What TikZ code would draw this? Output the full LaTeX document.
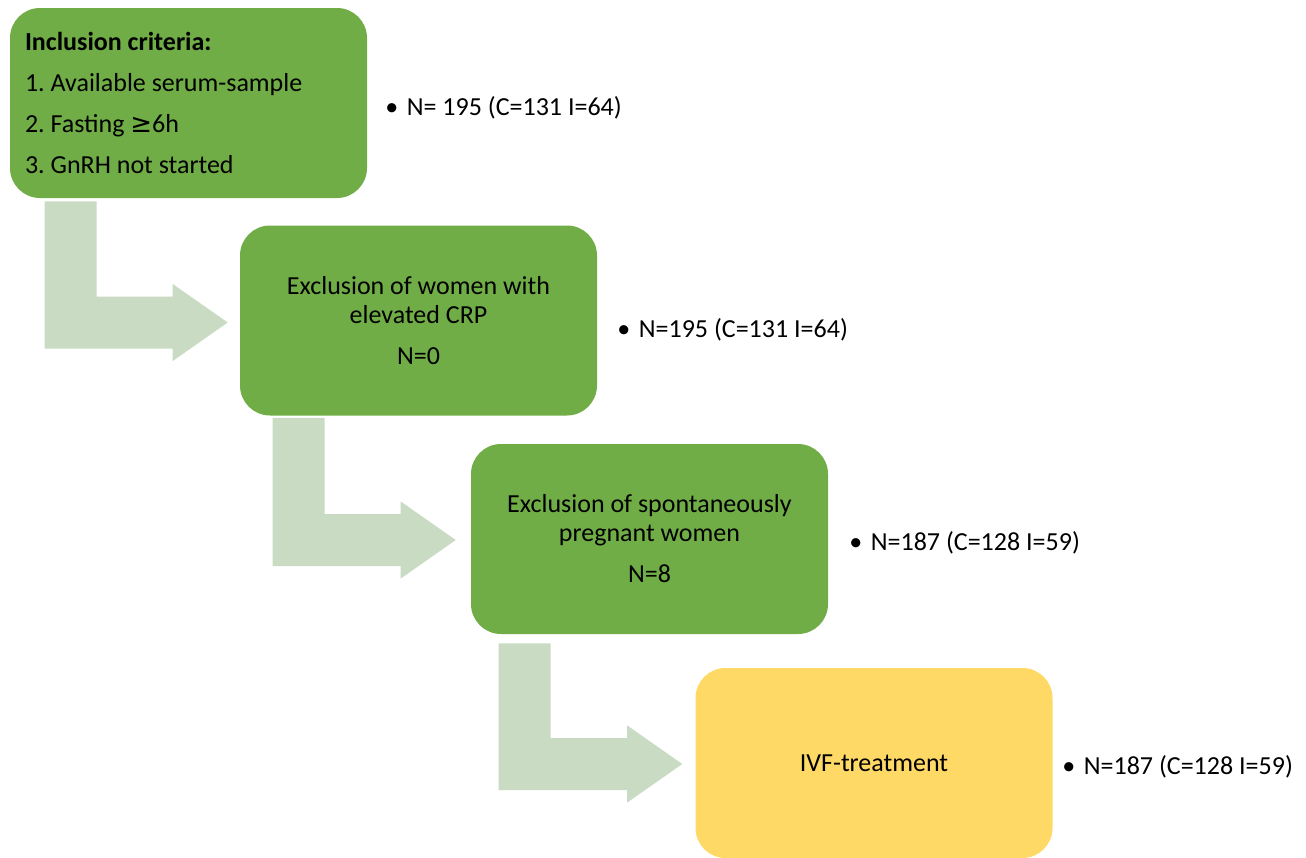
\documentclass[tikz,border=0pt]{standalone}
\usepackage{fontspec}
\setmainfont{Carlito}
\newfontfamily\geqfont{DejaVu Sans}
\usepackage{tikz}
\usetikzlibrary{calc}

\definecolor{boxgreen}{RGB}{112,173,71}
\definecolor{boxyellow}{RGB}{255,217,102}
\definecolor{arrowgreen}{RGB}{201,219,194}

\tikzset{
  stagebox/.style={rounded corners=22.5pt, minimum width=267.75pt, minimum height=142.5pt, inner sep=0pt, align=center},
  greenbox/.style={stagebox, fill=boxgreen},
  yellowbox/.style={stagebox, fill=boxyellow},
  countlabel/.style={anchor=base west, inner sep=0pt}
}

% #1 top left of the shaft, #2 tip of the head
\newcommand{\bentarrow}[2]{%
  \fill[arrowgreen] (#1) -- ++(52,0) |- ($(#2)+(-55,-26)$) -- ($(#2)+(-55,-38.5)$) -- (#2)
    -- ($(#2)+(-55,38.5)$) -- ($(#2)+(-55,26)$) -| (#1) -- cycle;}

\begin{document}
\begin{tikzpicture}[x=0.75pt, y=-0.75pt, font=\fontsize{19.5pt}{21.75pt}\selectfont\frenchspacing]
  \useasboundingbox (0,0) rectangle (1306,857);
  \clip (0,0) rectangle (1306,857);

  % stages
  \node[greenbox, align=flush left, text width=245.25pt] (incl) at (188.5,103) {\textbf{Inclusion criteria:}\\[9pt]1. Available serum-sample\\[9pt]2. Fasting {\geqfont ≥}6h\\[9pt]3. GnRH not started};
  \node[greenbox] (crp) at (418.5,320.5) {Exclusion of women with\\elevated CRP\\[9pt]N=0};
  \node[greenbox] (preg) at (649.5,539) {Exclusion of spontaneously\\pregnant women\\[9pt]N=8};
  \node[yellowbox] (ivf) at (874,763) {IVF-treatment};

  % counts
  \node[countlabel] (nincl) at (385,115) {•\hspace{6.5pt}N= 195 (C=131 I=64)};
  \node[countlabel] (ncrp) at (617,337) {•\hspace{6.5pt}N=195 (C=131 I=64)};
  \node[countlabel] (npreg) at (849,550) {•\hspace{6.5pt}N=187 (C=128 I=59)};
  \node[countlabel] (nivf) at (1062,774) {•\hspace{6.5pt}N=187 (C=128 I=59)};

  % bent arrows
  \coordinate (a1) at ([shift={(35,3)}]incl.south west);
  \coordinate (t1) at ([shift={(-12,2)}]crp.west);
  \coordinate (a2) at ([shift={(33,2)}]crp.south west);
  \coordinate (t2) at ([shift={(-15,1)}]preg.west);
  \coordinate (a3) at ([shift={(28,9)}]preg.south west);
  \coordinate (t3) at ([shift={(-13,1)}]ivf.west);
  \bentarrow{a1}{t1}
  \bentarrow{a2}{t2}
  \bentarrow{a3}{t3}
\end{tikzpicture}
\end{document}
